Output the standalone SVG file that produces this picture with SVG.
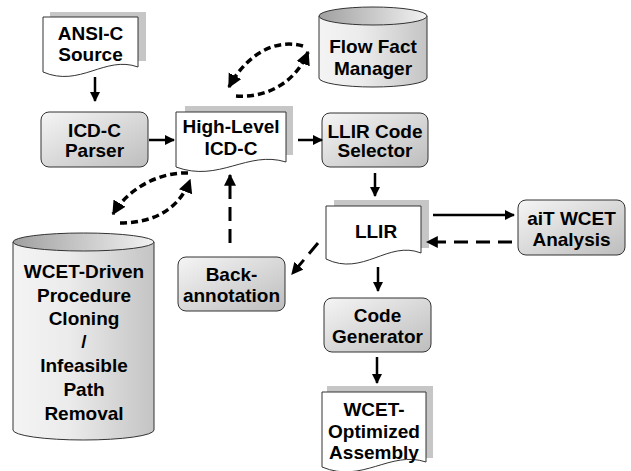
<svg xmlns="http://www.w3.org/2000/svg" width="631" height="471" viewBox="0 0 631 471">
<style>
text{font-family:"Liberation Sans",Arial,sans-serif;font-weight:bold;font-size:19px;fill:#000;text-anchor:middle}
.box{fill:url(#gBox);stroke:#333;stroke-width:1}
.doc{fill:#fff;stroke:#333;stroke-width:1}
.shadow{fill:#c6c6c6}
.cylb{fill:url(#gCyl);stroke:#333;stroke-width:1}
.cylt{fill:url(#gTop);stroke:#333;stroke-width:1}
.arr{fill:none;stroke:#000;stroke-width:2.5;marker-end:url(#ah)}
.dash{fill:none;stroke:#000;stroke-width:3;stroke-dasharray:14 8;marker-end:url(#ah)}
.dot{fill:none;stroke:#000;stroke-width:3.5;stroke-dasharray:7 4;marker-end:url(#ah2)}
</style>
<defs>
<linearGradient id="gBox" x1="0" y1="0" x2="1" y2="1">
<stop offset="0" stop-color="#f5f5f5"/><stop offset="1" stop-color="#bdbdbd"/>
</linearGradient>
<linearGradient id="gCyl" x1="0" y1="0" x2="1" y2="0">
<stop offset="0" stop-color="#f4f4f4"/><stop offset="0.4" stop-color="#ebebeb"/><stop offset="1" stop-color="#c4c4c4"/>
</linearGradient>
<linearGradient id="gTop" x1="0" y1="0" x2="1" y2="0">
<stop offset="0" stop-color="#a0a0a0"/><stop offset="1" stop-color="#f2f2f2"/>
</linearGradient>
<marker id="ah" viewBox="0 0 10 10" refX="9" refY="5" markerWidth="4" markerHeight="4" markerUnits="strokeWidth" orient="auto">
<path d="M0,0 L10,5 L0,10 z" fill="#000"/>
</marker>
<marker id="ah2" viewBox="0 0 10 10" refX="9" refY="5" markerWidth="4" markerHeight="4.2" markerUnits="strokeWidth" orient="auto">
<path d="M0,0 L10,5 L0,10 z" fill="#000"/>
</marker>
</defs>

<g id="ansi-c-source">
<rect class="shadow" x="50" y="12" width="96" height="49"/>
<path class="doc" d="M43,17 H138 V67 C105,55 80,88 43,72 Z"/>
<text x="90.5" y="40">ANSI-C</text>
<text x="90.5" y="61">Source</text>
</g>

<g id="flow-fact-manager">
<path class="cylb" d="M319,16 V78 A54,9 0 0 0 427,78 V16 Z"/>
<ellipse class="cylt" cx="373" cy="16" rx="54" ry="9"/>
<text x="373" y="53">Flow Fact</text>
<text x="373" y="75">Manager</text>
</g>

<g id="icd-c-parser">
<rect class="box" x="41" y="112" width="107" height="55" rx="8"/>
<text x="94.5" y="137">ICD-C</text>
<text x="94.5" y="157">Parser</text>
</g>

<g id="high-level-icd-c">
<rect class="shadow" x="185" y="106" width="108" height="49"/>
<path class="doc" d="M176,112 H286 V162 C247.5,150 219,183 176,167 Z"/>
<text x="231" y="133">High-Level</text>
<text x="231" y="155">ICD-C</text>
</g>

<g id="llir-code-selector">
<rect class="box" x="322" y="113" width="106" height="54" rx="8"/>
<text x="375" y="138">LLIR Code</text>
<text x="375" y="157">Selector</text>
</g>

<g id="llir">
<rect class="shadow" x="334" y="200" width="95" height="48"/>
<path class="doc" d="M326,206 H421 V253 C388,240 363,277 326,259 Z"/>
<text x="376" y="238">LLIR</text>
</g>

<g id="ait-wcet-analysis">
<rect class="box" x="518" y="200" width="107" height="55" rx="8"/>
<text x="571.5" y="225">aiT WCET</text>
<text x="571.5" y="246">Analysis</text>
</g>

<g id="back-annotation">
<rect class="box" x="178" y="257" width="107" height="54" rx="8"/>
<text x="231.5" y="281">Back-</text>
<text x="231.5" y="302">annotation</text>
</g>

<g id="code-generator">
<rect class="box" x="324" y="298" width="107" height="54" rx="8"/>
<text x="377.5" y="322">Code</text>
<text x="377.5" y="343">Generator</text>
</g>

<g id="wcet-optimized-assembly">
<rect class="shadow" x="327" y="386" width="106" height="72"/>
<path class="doc" d="M322,392 H426 V462 C390,450 362.5,484 322,467 Z"/>
<text x="374" y="416">WCET-</text>
<text x="374" y="438">Optimized</text>
<text x="374" y="459">Assembly</text>
</g>

<g id="wcet-driven-cloning">
<path class="cylb" d="M13,242 V430 A70.5,10 0 0 0 154,430 V242 Z"/>
<ellipse class="cylt" cx="83.5" cy="242" rx="70.5" ry="9"/>
<text x="84" y="278">WCET-Driven</text>
<text x="84" y="302">Procedure</text>
<text x="84" y="325">Cloning</text>
<text x="84" y="348">/</text>
<text x="84" y="372">Infeasible</text>
<text x="84" y="396">Path</text>
<text x="84" y="420">Removal</text>
</g>

<g id="connectors">
<path class="arr" d="M95,77 V101"/>
<path class="arr" d="M149,140 H174"/>
<path class="arr" d="M298,140 H322"/>
<path class="arr" d="M375,173 V196"/>
<path class="arr" d="M433,215 H514"/>
<path class="dash" d="M512,242 H427"/>
<path class="arr" d="M378,267 V291"/>
<path class="arr" d="M377,357 V383"/>
<path class="dash" d="M230,243 V175"/>
<path class="dash" d="M318,243 L292,274"/>
<path class="dot" d="M303,46 C275,38 246,55 229,87"/>
<path class="dot" d="M236,96 C265,98 295,84 308,52"/>
<path class="dot" d="M188,173 C162,172 130,186 113,214"/>
<path class="dot" d="M120,223 C150,223 178,212 190,180"/>
</g>
</svg>
